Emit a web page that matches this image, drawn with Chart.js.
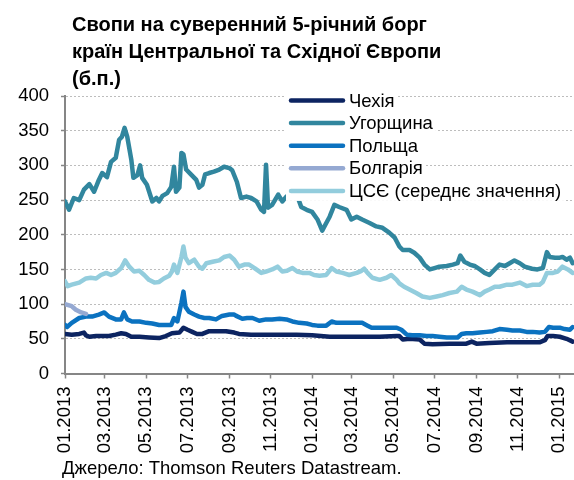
<!DOCTYPE html>
<html><head><meta charset="utf-8">
<script src="https://cdn.jsdelivr.net/npm/chart.js@4"></script>
<style>html,body{margin:0;padding:0;background:#fff}#wrap{width:574px;height:480px;position:relative}</style>
</head><body><div id="wrap"><canvas id="c" width="574" height="480"></canvas></div>
<script>
// ---- text ----
const titleLines = ['Свопи на суверенний 5-річний борг', 'країн Центральної та Східної Європи', '(б.п.)'];
const sourceText = 'Джерело: Thomson Reuters Datastream.';
const seriesNames = ['Чехія', 'Угорщина', 'Польща', 'Болгарія', 'ЦСЄ (середнє значення)'];
// ---- x axis: days since 01.01.2013 ----
const tickDays = [0, 59, 120, 181, 243, 304, 365, 424, 485, 546, 608, 669, 730];
const tickLabels = ['01.2013', '03.2013', '05.2013', '07.2013', '09.2013', '11.2013', '01.2014', '03.2014', '05.2014', '07.2014', '09.2014', '11.2014', '01.2015'];
const yTicks = [0, 50, 100, 150, 200, 250, 300, 350, 400];
// ---- series (day index, value in b.p.) ----
const czechDays = [0,10,21,28,31,36,46,55,65,75,83,90,98,110,124,139,149,158,169,175,181,188,195,203,213,228,238,250,257,275,292,317,342,365,391,416,439,465,490,494,499,509,524,531,543,568,593,601,608,627,653,676,701,709,713,721,731,741,750];
const czechValues = [57,56,57,59,55,53,54,54,54,56,58,57,53,53,52,51,54,58,59,66,63,60,57,57,61,61,61,59,57,56,56,56,56,55,53,53,53,53,54,54,49,50,49,43,42,43,43,46,43,44,45,45,45,48,54,54,53,50,46];
const hungaryDays = [0,6,13,21,28,36,43,50,55,62,68,75,80,84,88,92,98,101,107,111,114,121,129,135,139,144,151,157,161,164,169,172,175,179,186,194,198,203,207,213,220,228,235,243,247,254,260,268,275,283,290,294,297,300,306,315,321,327,334,342,349,357,365,373,380,386,391,398,405,416,423,431,439,450,460,469,479,487,494,499,509,516,524,531,539,546,553,564,573,580,584,590,598,605,613,620,627,635,642,650,657,664,672,679,690,698,706,712,716,724,731,735,741,746,750];
const hungaryValues = [248,236,253,250,265,273,262,279,289,283,305,311,337,341,354,341,308,282,286,300,282,272,248,253,248,256,260,269,298,262,268,318,316,294,287,279,268,272,287,289,291,294,298,296,293,276,253,255,253,248,236,233,301,239,243,258,248,255,253,259,240,236,233,222,206,217,226,243,240,236,222,226,222,217,212,210,203,196,183,178,178,174,167,157,150,152,154,155,157,159,170,161,157,155,150,145,142,150,157,155,159,163,159,154,151,150,152,175,168,167,167,168,164,167,159];
const polandDays = [0,3,10,21,31,40,50,58,65,75,83,87,92,99,110,120,129,139,149,157,161,166,172,175,178,183,191,198,206,213,223,232,243,250,253,262,269,277,287,297,306,317,327,336,346,357,365,373,386,394,401,410,420,431,439,447,453,460,469,479,490,497,505,513,524,534,543,553,564,573,580,586,593,602,613,623,632,642,653,661,672,682,691,701,709,715,721,731,738,746,750];
const polandValues = [70,67,73,80,82,82,85,88,82,78,78,88,78,75,75,73,72,70,70,70,80,75,102,118,96,89,85,82,80,80,78,83,85,85,83,79,80,80,76,78,78,79,78,75,73,72,70,69,69,75,73,73,73,73,73,69,66,66,66,66,66,63,56,55,55,54,54,53,52,52,52,57,58,58,59,60,61,64,63,62,62,60,60,59,60,67,66,66,64,63,67];
const bulgariaDays = [0,10,16,24,31];
const bulgariaValues = [100,97,92,88,86];
const ceeDays = [0,4,10,21,31,38,46,53,61,68,75,83,89,95,102,110,117,124,132,139,146,154,158,161,166,172,175,178,183,191,198,203,209,218,228,235,243,250,257,265,272,280,290,297,306,314,321,328,336,343,351,361,368,376,386,394,401,410,420,431,438,442,447,454,465,475,482,490,494,501,509,519,528,539,549,558,568,579,586,593,602,613,620,627,635,642,653,661,672,682,691,701,706,712,721,728,735,743,750];
const ceeValues = [133,126,128,131,137,138,137,142,145,142,145,152,163,154,147,148,142,135,131,132,137,141,147,157,145,168,183,167,159,164,154,151,159,161,163,168,170,164,154,157,157,152,145,147,150,154,147,148,152,147,145,145,142,141,142,152,147,145,142,145,148,151,145,138,135,138,142,135,130,125,121,116,111,109,111,113,116,118,125,121,118,113,118,121,125,125,128,128,131,126,128,128,132,145,145,147,154,150,145];

const colors = ['#0c2461', '#31869e', '#0b72c0', '#95a9d2', '#93cddd'];
const FONT = "'Liberation Sans', Arial, sans-serif";

function pts(days, vals) { return days.map((d, i) => ({ x: d, y: vals[i] })); }
const seriesData = [
  pts(czechDays, czechValues),
  pts(hungaryDays, hungaryValues),
  pts(polandDays, polandValues),
  pts(bulgariaDays, bulgariaValues),
  pts(ceeDays, ceeValues)
];
const drawOrder = [5, 4, 3, 2, 1];

const datasets = seriesData.map((d, i) => ({
  label: seriesNames[i],
  data: d,
  borderColor: colors[i],
  backgroundColor: colors[i],
  borderWidth: 4.5,
  pointRadius: 0,
  tension: 0,
  fill: false,
  borderJoinStyle: 'round',
  borderCapStyle: 'round',
  order: drawOrder[i]
}));

const decorPlugin = {
  id: 'decor',
  afterDraw(chart) {
    const ctx = chart.ctx;
    ctx.save();
    // title
    ctx.fillStyle = '#000';
    ctx.textBaseline = 'alphabetic';
    ctx.textAlign = 'left';
    ctx.font = 'bold 20px ' + FONT;
    titleLines.forEach((t, i) => ctx.fillText(t, 72, 31 + i * 27));
    // legend
    ctx.font = '18.5px ' + FONT;
    ctx.textBaseline = 'middle';
    chart.data.datasets.forEach((ds, i) => {
      const y = 100.5 + i * 22.6;
      const tw = ctx.measureText(ds.label).width;
      ctx.fillStyle = '#fff';
      ctx.fillRect(286, y - 10, 349 + tw + 3 - 286, 20);
      ctx.strokeStyle = ds.borderColor;
      ctx.lineWidth = 4.5;
      ctx.lineCap = 'round';
      ctx.beginPath();
      ctx.moveTo(291, y);
      ctx.lineTo(343, y);
      ctx.stroke();
      ctx.fillStyle = '#000';
      ctx.fillText(ds.label, 349, y + 1);
    });
    // source
    ctx.textBaseline = 'alphabetic';
    ctx.font = '18.5px ' + FONT;
    ctx.fillText(sourceText, 62, 474);
    ctx.restore();
  }
};

new Chart(document.getElementById('c'), {
  type: 'line',
  data: { datasets },
  options: {
    responsive: false,
    animation: false,
    devicePixelRatio: 1,
    layout: { padding: { left: 18, right: 0, top: 96, bottom: 0 } },
    plugins: { legend: { display: false }, title: { display: false }, tooltip: { enabled: false } },
    scales: {
      x: {
        type: 'linear',
        min: 0,
        max: 752,
        afterBuildTicks: (s) => { s.ticks = tickDays.map(v => ({ value: v })); },
        afterFit: (s) => { s.paddingLeft = 0; s.paddingRight = 0; s.height = 106.5; },
        ticks: {
          autoSkip: false,
          minRotation: 90,
          maxRotation: 90,
          padding: 8,
          color: '#000',
          font: { family: FONT, size: 18.5 },
          callback: (v, i) => tickLabels[i]
        },
        grid: { drawOnChartArea: false, drawTicks: true, tickLength: 5, tickColor: '#868686', tickWidth: 1.5, tickBorderDash: [] },
        border: { color: '#868686', width: 2 }
      },
      y: {
        min: 0,
        max: 400,
        afterBuildTicks: (s) => { s.ticks = yTicks.map(v => ({ value: v })); },
        afterFit: (s) => { s.paddingTop = 0; s.paddingBottom = 0; s.width = 47; },
        ticks: { padding: 12, color: '#000', font: { family: FONT, size: 18.5 } },
        grid: { color: '#bdbdbd', lineWidth: 1, tickLength: 4, tickColor: '#868686', tickWidth: 1.5, tickBorderDash: [] },
        border: { color: '#868686', width: 2, dash: [2, 2] }
      }
    }
  },
  plugins: [decorPlugin]
});
</script>
</body></html>
